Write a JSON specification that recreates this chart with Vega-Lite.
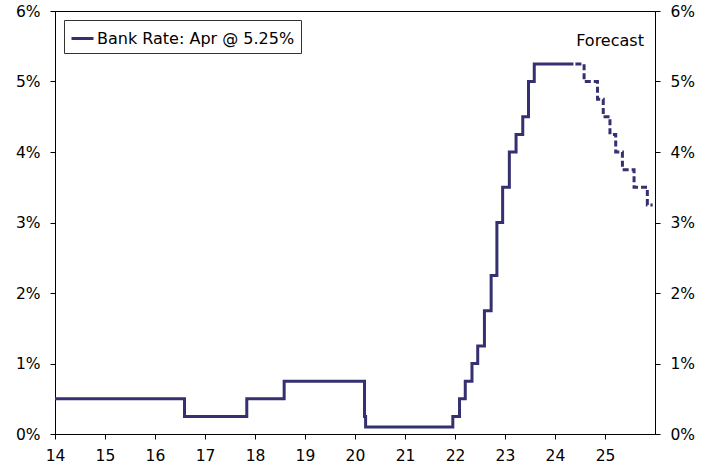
{
  "$schema": "https://vega.github.io/schema/vega-lite/v6.json",
  "autosize": "none",
  "width": 600,
  "height": 423,
  "padding": {"left": 55, "top": 11, "right": 59, "bottom": 35},
  "background": "white",
  "config": {
    "view": {"stroke": "black", "strokeWidth": 1},
    "font": "DejaVu Sans",
    "axis": {
      "grid": false,
      "domainColor": "black",
      "tickColor": "black",
      "tickSize": 5,
      "labelFont": "DejaVu Sans",
      "labelFontSize": 15.5,
      "labelColor": "black",
      "title": null
    },
    "legend": {
      "labelFont": "DejaVu Sans",
      "labelFontSize": 16,
      "labelColor": "black",
      "labelLimit": 400
    }
  },
  "datasets": {
    "actual": [
      {"date": "2014-01-01", "rate": 0.5, "series": "Bank Rate: Apr @ 5.25%"},
      {"date": "2016-08-04", "rate": 0.25, "series": "Bank Rate: Apr @ 5.25%"},
      {"date": "2017-11-02", "rate": 0.5, "series": "Bank Rate: Apr @ 5.25%"},
      {"date": "2018-08-02", "rate": 0.75, "series": "Bank Rate: Apr @ 5.25%"},
      {"date": "2020-03-11", "rate": 0.25, "series": "Bank Rate: Apr @ 5.25%"},
      {"date": "2020-03-19", "rate": 0.1, "series": "Bank Rate: Apr @ 5.25%"},
      {"date": "2021-12-16", "rate": 0.25, "series": "Bank Rate: Apr @ 5.25%"},
      {"date": "2022-02-03", "rate": 0.5, "series": "Bank Rate: Apr @ 5.25%"},
      {"date": "2022-03-17", "rate": 0.75, "series": "Bank Rate: Apr @ 5.25%"},
      {"date": "2022-05-05", "rate": 1.0, "series": "Bank Rate: Apr @ 5.25%"},
      {"date": "2022-06-16", "rate": 1.25, "series": "Bank Rate: Apr @ 5.25%"},
      {"date": "2022-08-04", "rate": 1.75, "series": "Bank Rate: Apr @ 5.25%"},
      {"date": "2022-09-22", "rate": 2.25, "series": "Bank Rate: Apr @ 5.25%"},
      {"date": "2022-11-03", "rate": 3.0, "series": "Bank Rate: Apr @ 5.25%"},
      {"date": "2022-12-15", "rate": 3.5, "series": "Bank Rate: Apr @ 5.25%"},
      {"date": "2023-02-02", "rate": 4.0, "series": "Bank Rate: Apr @ 5.25%"},
      {"date": "2023-03-23", "rate": 4.25, "series": "Bank Rate: Apr @ 5.25%"},
      {"date": "2023-05-11", "rate": 4.5, "series": "Bank Rate: Apr @ 5.25%"},
      {"date": "2023-06-22", "rate": 5.0, "series": "Bank Rate: Apr @ 5.25%"},
      {"date": "2023-08-03", "rate": 5.25, "series": "Bank Rate: Apr @ 5.25%"},
      {"date": "2024-05-15", "rate": 5.25, "series": "Bank Rate: Apr @ 5.25%"}
    ],
    "forecast": [
      {"date": "2024-05-15", "rate": 5.25},
      {"date": "2024-08-01", "rate": 5.0},
      {"date": "2024-11-07", "rate": 4.75},
      {"date": "2024-12-19", "rate": 4.5},
      {"date": "2025-02-06", "rate": 4.25},
      {"date": "2025-03-20", "rate": 4.0},
      {"date": "2025-05-08", "rate": 3.75},
      {"date": "2025-08-01", "rate": 3.5},
      {"date": "2025-11-06", "rate": 3.25},
      {"date": "2025-12-15", "rate": 3.25}
    ],
    "labels": [
      {"date": "2025-10-12", "rate": 5.5, "text": "Forecast"}
    ]
  },
  "layer": [
    {
      "layer": [
        {
          "data": {"name": "actual"},
          "mark": {"type": "line", "interpolate": "step-after", "strokeWidth": 3, "clip": true},
          "encoding": {
            "x": {
              "field": "date", "type": "temporal",
              "scale": {"type": "utc", "domain": [{"year": 2014, "month": 1, "date": 1, "utc": true}, {"year": 2026, "month": 1, "date": 1, "utc": true}]},
              "axis": {
                "values": [
                  {"year": 2014, "month": 1, "date": 1, "utc": true},
                  {"year": 2015, "month": 1, "date": 1, "utc": true},
                  {"year": 2016, "month": 1, "date": 1, "utc": true},
                  {"year": 2017, "month": 1, "date": 1, "utc": true},
                  {"year": 2018, "month": 1, "date": 1, "utc": true},
                  {"year": 2019, "month": 1, "date": 1, "utc": true},
                  {"year": 2020, "month": 1, "date": 1, "utc": true},
                  {"year": 2021, "month": 1, "date": 1, "utc": true},
                  {"year": 2022, "month": 1, "date": 1, "utc": true},
                  {"year": 2023, "month": 1, "date": 1, "utc": true},
                  {"year": 2024, "month": 1, "date": 1, "utc": true},
                  {"year": 2025, "month": 1, "date": 1, "utc": true}
                ],
                "labelExpr": "utcFormat(datum.value, '%y')",
                "labelPadding": 9,
                "labelFlush": false,
                "labelOverlap": false
              }
            },
            "y": {
              "field": "rate", "type": "quantitative",
              "scale": {"domain": [0, 6], "nice": false, "zero": true},
              "axis": {"orient": "left", "values": [0, 1, 2, 3, 4, 5, 6], "labelExpr": "datum.value + '%'", "labelPadding": 10}
            },
            "color": {
              "field": "series", "type": "nominal",
              "scale": {"range": ["#35306F"]},
              "legend": {
                "title": null,
                "orient": "top-left",
                "offset": 9,
                "symbolType": "stroke",
                "symbolSize": 484,
                "symbolStrokeWidth": 3,
                "labelOffset": 2,
                "padding": 6,
                "strokeColor": "#333333",
                "fillColor": "white"
              }
            }
          }
        },
        {
          "data": {"name": "forecast"},
          "mark": {"type": "line", "interpolate": "step-after", "strokeWidth": 3, "strokeDash": [6, 3], "strokeDashOffset": 7, "color": "#35306F"},
          "encoding": {
            "x": {"field": "date", "type": "temporal"},
            "y": {"field": "rate", "type": "quantitative"}
          }
        }
      ]
    },
    {
      "data": {"name": "labels"},
      "mark": {"type": "text", "align": "right", "baseline": "alphabetic", "fontSize": 16, "font": "DejaVu Sans", "color": "black"},
      "encoding": {
        "x": {"field": "date", "type": "temporal"},
        "y": {
          "field": "rate", "type": "quantitative",
          "scale": {"domain": [0, 6], "nice": false, "zero": true},
          "axis": {"orient": "right", "values": [0, 1, 2, 3, 4, 5, 6], "labelExpr": "datum.value + '%'", "labelPadding": 10}
        },
        "text": {"field": "text"}
      }
    }
  ],
  "resolve": {"scale": {"y": "independent"}}
}
